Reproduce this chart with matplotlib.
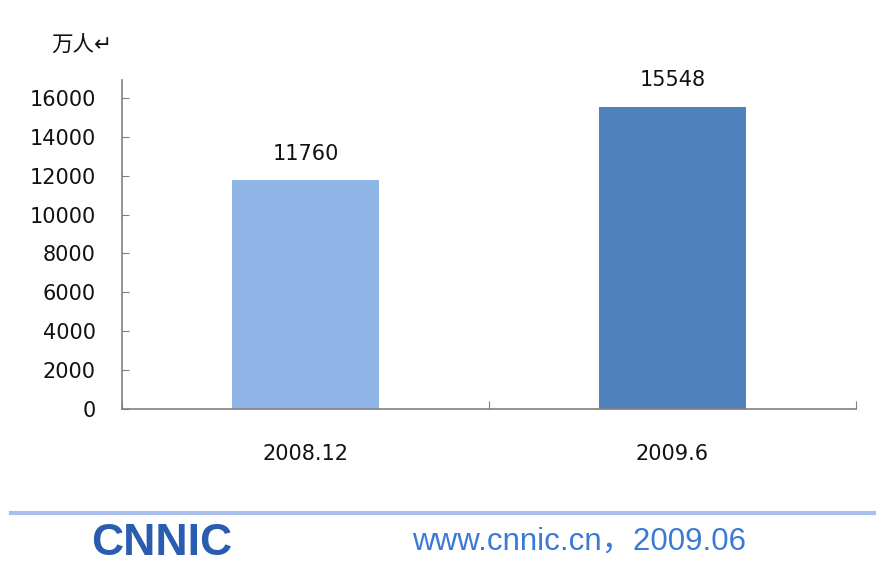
import numpy as np
import matplotlib
matplotlib.use('Agg')
import matplotlib.pyplot as plt

# data
periods = ['2008.12', '2009.6']
users = [11760, 15548]
bar_colors = ['#8fb4e6', '#4f81bd']
y_ticks = [0, 2000, 4000, 6000, 8000, 10000, 12000, 14000, 16000]

plt.rcParams['font.family'] = ['DejaVu Sans', 'Noto Sans CJK SC']

fig = plt.figure(figsize=(8.76, 5.67), dpi=100)
fig.patch.set_facecolor('white')

ax = fig.add_axes([0.1393, 0.2787, 0.8379, 0.5802])

x = np.arange(len(periods))
ax.bar(x, users, width=0.403, color=bar_colors, zorder=2)

for xi, v in zip(x, users):
    ax.annotate(str(v), (xi, v), xytext=(0, 12), textcoords='offset points',
                ha='center', va='bottom', fontsize=15, color='#111111')

ax.set_xlim(-0.5, len(periods) - 0.5)
ax.set_ylim(0, 16925)

ax.set_yticks(y_ticks)
ax.set_yticklabels([str(t) for t in y_ticks])
ax.tick_params(axis='y', direction='in', length=5, color='#808080',
               labelsize=15, pad=19, labelcolor='#111111')

# category boundary ticks, labels in between
ax.set_xticks([-0.5, 0.5, 1.5])
ax.set_xticklabels(['', '', ''])
ax.tick_params(axis='x', which='major', direction='in', length=6, color='#808080')
ax.set_xticks(x, minor=True)
ax.set_xticklabels(periods, minor=True)
ax.tick_params(axis='x', which='minor', length=0, labelsize=15, pad=25,
               labelcolor='#111111')

for side in ['top', 'right']:
    ax.spines[side].set_visible(False)
for side in ['left', 'bottom']:
    ax.spines[side].set_color('#808080')
    ax.spines[side].set_linewidth(1.2)

fig.text(0.059, 0.921, '万人↵', fontsize=15.5, color='#111111',
         family=['Noto Sans CJK SC', 'DejaVu Sans'], ha='left', va='center')

# footer
fig.add_artist(plt.Line2D([0.012, 1.0], [0.095, 0.095], color='#a8bff0',
                          linewidth=3, transform=fig.transFigure))
fig.text(0.185, 0.042, 'CNNIC', fontsize=32, fontweight='bold', color='#2a5cb0',
         family=['Liberation Sans Narrow', 'Liberation Sans'], ha='center', va='center')
fig.text(0.47, 0.045, 'www.cnnic.cn，2009.06', fontsize=22.5, color='#3a7ad6',
         family=['Liberation Sans', 'Noto Sans CJK SC'], ha='left', va='center')

plt.savefig('out.png', dpi=100, facecolor='white')
